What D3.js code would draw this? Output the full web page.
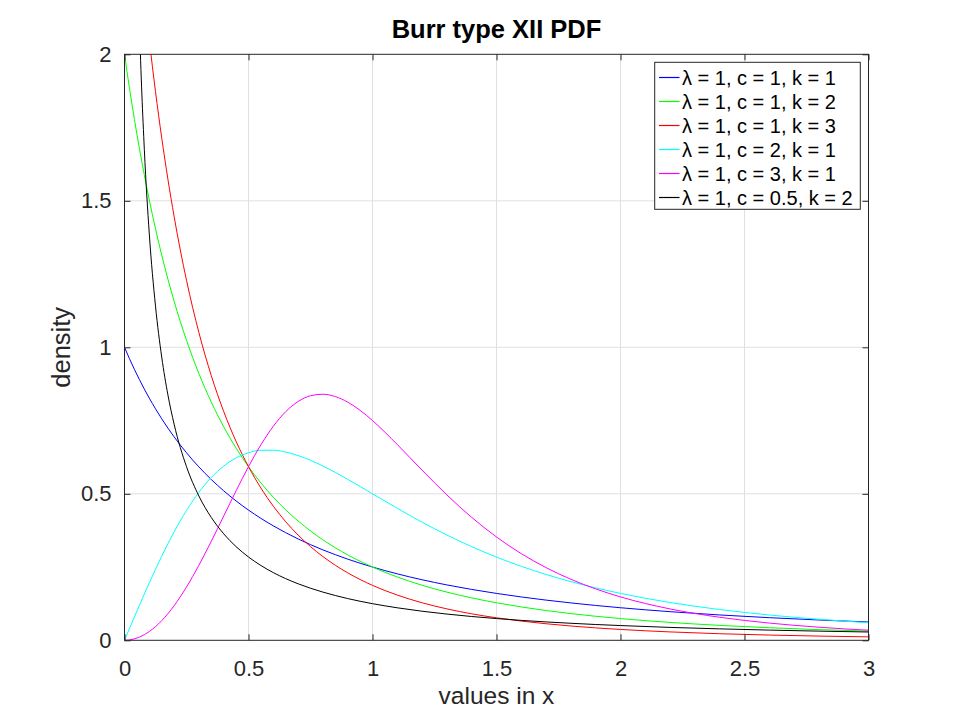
<!DOCTYPE html>
<html><head><meta charset="utf-8">
<script src="https://cdn.jsdelivr.net/npm/d3@7"></script>
<style>
body{margin:0;background:#fff}
svg{display:block}
text{font-family:"Liberation Sans",Arial,Helvetica,sans-serif;fill:#262626}
</style>
</head><body>
<svg id="chart" width="960" height="720"></svg>
<script>
// ---- data ----
const xValues = [0, 0.02, 0.04, 0.06, 0.08, 0.1, 0.125, 0.15, 0.175, 0.2, 0.25, 0.3, 0.35, 0.4, 0.45, 0.5,
  0.55, 0.6, 0.65, 0.7, 0.75, 0.8, 0.85, 0.9, 0.95, 1.0, 1.1, 1.2, 1.3, 1.4, 1.5, 1.6, 1.7, 1.8, 1.9, 2.0,
  2.2, 2.4, 2.6, 2.8, 3.0];

const densityC1K1 = [1, 0.9612, 0.9246, 0.8900, 0.8573, 0.8264, 0.7901, 0.7561, 0.7243, 0.6944, 0.64, 0.5917,
  0.5487, 0.5102, 0.4756, 0.4444, 0.4162, 0.3906, 0.3673, 0.3460, 0.3265, 0.3086, 0.2922, 0.2770, 0.2630, 0.25,
  0.2268, 0.2066, 0.1890, 0.1736, 0.16, 0.1479, 0.1372, 0.1276, 0.1189, 0.1111, 0.0977, 0.0865, 0.0772, 0.0693, 0.0625];

const densityC1K2 = [2, 1.8846, 1.7780, 1.6792, 1.5877, 1.5026, 1.4047, 1.3150, 1.2329, 1.1574, 1.024, 0.9103,
  0.8129, 0.7289, 0.6560, 0.5926, 0.5371, 0.4883, 0.4452, 0.4071, 0.3732, 0.3429, 0.3159, 0.2916, 0.2697, 0.25,
  0.2160, 0.1878, 0.1644, 0.1447, 0.128, 0.1138, 0.1016, 0.0911, 0.0820, 0.0741, 0.0610, 0.0509, 0.0429, 0.0364, 0.0313];

const densityC1K3 = [3, 2.7715, 2.5644, 2.3763, 2.2051, 2.0490, 1.8729, 1.7152, 1.5739, 1.4468, 1.2288, 1.0504,
  0.9032, 0.7809, 0.6787, 0.5926, 0.5198, 0.4578, 0.4047, 0.3592, 0.3199, 0.2858, 0.2561, 0.2302, 0.2075, 0.1875,
  0.1543, 0.1281, 0.1072, 0.0904, 0.0768, 0.0656, 0.0565, 0.0488, 0.0424, 0.0370, 0.0286, 0.0224, 0.0179, 0.0144, 0.0117];

const densityC2K1 = [0, 0.0400, 0.0797, 0.1191, 0.1580, 0.1961, 0.2424, 0.2869, 0.3295, 0.3698, 0.4429, 0.5050,
  0.5556, 0.5945, 0.6224, 0.64, 0.6484, 0.6488, 0.6425, 0.6306, 0.6144, 0.5949, 0.5730, 0.5494, 0.5249, 0.5,
  0.4504, 0.4031, 0.3593, 0.3196, 0.2840, 0.2525, 0.2247, 0.2002, 0.1788, 0.16, 0.1290, 0.1050, 0.0864, 0.0717, 0.06];

const densityC3K1 = [0, 0.0012, 0.0048, 0.0108, 0.0192, 0.0299, 0.0467, 0.0670, 0.0909, 0.1181, 0.1818, 0.2560,
  0.3379, 0.4240, 0.5103, 0.5926, 0.6671, 0.7304, 0.7802, 0.8150, 0.8347, 0.8398, 0.8319, 0.8129, 0.7848, 0.75,
  0.6681, 0.5805, 0.4961, 0.4195, 0.3527, 0.2957, 0.2480, 0.2082, 0.1753, 0.1481, 0.1070, 0.0786, 0.0588, 0.0446, 0.0344];

const densityC05K2 = [null, 4.755, 2.8935, 2.1158, 1.6747, 1.3868, 1.1406, 0.9670, 0.8378, 0.7377, 0.5926, 0.4924,
  0.4192, 0.3635, 0.3196, 0.2843, 0.2553, 0.2310, 0.2105, 0.1929, 0.1777, 0.1645, 0.1528, 0.1424, 0.1332, 0.125,
  0.1109, 0.0992, 0.0895, 0.0812, 0.0742, 0.0680, 0.0627, 0.0581, 0.0539, 0.0503, 0.0440, 0.0390, 0.0348, 0.0313, 0.0283];

const seriesLabels = ["λ = 1, c = 1, k = 1", "λ = 1, c = 1, k = 2", "λ = 1, c = 1, k = 3",
  "λ = 1, c = 2, k = 1", "λ = 1, c = 3, k = 1", "λ = 1, c = 0.5, k = 2"];
const seriesColors = ["#0000ff", "#00ff00", "#ff0000", "#00ffff", "#ff00ff", "#000000"];
const seriesValues = [densityC1K1, densityC1K2, densityC1K3, densityC2K1, densityC3K1, densityC05K2];

const xTicks = [0, 0.5, 1, 1.5, 2, 2.5, 3];
const yTicks = [0, 0.5, 1, 1.5, 2];
const titleText = "Burr type XII PDF";
const xLabelText = "values in x";
const yLabelText = "density";

(function () {
// ---- layout ----
const pL = 124.5, pR = 868.5, pT = 54.3, pB = 640.3;
const axisColor = "#262626";
const svg = d3.select("#chart");

const x = d3.scaleLinear().domain([0, 3]).range([pL, pR]);
const y = d3.scaleLinear().domain([0, 2]).range([pB, pT]);

svg.append("rect").attr("x", 0).attr("y", 0).attr("width", 960).attr("height", 720).attr("fill", "#fff");

// grid
const grid = svg.append("g").attr("stroke", "#e0e0e0").attr("stroke-width", 1);
grid.selectAll("line.gx").data(xTicks.slice(1, -1)).join("line")
  .attr("x1", d => x(d)).attr("x2", d => x(d))
  .attr("y1", pT).attr("y2", pB);
grid.selectAll("line.gy").data(yTicks.slice(1, -1)).join("line")
  .attr("y1", d => y(d)).attr("y2", d => y(d))
  .attr("x1", pL).attr("x2", pR);

// clip
svg.append("clipPath").attr("id", "plotclip").append("rect")
  .attr("x", pL).attr("y", pT).attr("width", pR - pL).attr("height", pB - pT);

const line = d3.line()
  .defined(d => d[1] !== null)
  .x(d => x(d[0])).y(d => y(d[1]))
  .curve(d3.curveMonotoneX);

const curves = svg.append("g").attr("clip-path", "url(#plotclip)");
seriesValues.forEach((vals, i) => {
  curves.append("path")
    .datum(xValues.map((xv, j) => [xv, vals[j]]))
    .attr("fill", "none")
    .attr("stroke", seriesColors[i])
    .attr("stroke-width", 1)
    .attr("d", line);
});

// axes (inward ticks)
const tickLen = 6;
const fmt = d => String(d);
const gB = svg.append("g").attr("transform", `translate(0,${pB})`)
  .call(d3.axisBottom(x).tickValues(xTicks).tickFormat(fmt).tickSizeInner(-tickLen).tickSizeOuter(0).tickPadding(20.5));
const gT = svg.append("g").attr("transform", `translate(0,${pT})`)
  .call(d3.axisTop(x).tickValues(xTicks).tickFormat(() => "").tickSizeInner(-tickLen).tickSizeOuter(0));
const gL = svg.append("g").attr("transform", `translate(${pL},0)`)
  .call(d3.axisLeft(y).tickValues(yTicks).tickFormat(fmt).tickSizeInner(-tickLen).tickSizeOuter(0).tickPadding(13));
const gR = svg.append("g").attr("transform", `translate(${pR},0)`)
  .call(d3.axisRight(y).tickValues(yTicks).tickFormat(() => "").tickSizeInner(-tickLen).tickSizeOuter(0));

[gB, gT, gL, gR].forEach(g => {
  g.attr("font-family", null).attr("font-size", null);
  g.select(".domain").remove();
  g.selectAll(".tick line").attr("stroke", axisColor);
  g.selectAll(".tick text").attr("fill", axisColor).style("font-size", "22px");
});

svg.append("rect").attr("x", pL).attr("y", pT).attr("width", pR - pL).attr("height", pB - pT)
  .attr("fill", "none").attr("stroke", axisColor).attr("stroke-width", 1);

// title and labels
svg.append("text").attr("x", (pL + pR) / 2).attr("y", 38).attr("text-anchor", "middle")
  .style("font-size", "25.5px").style("font-weight", "bold").style("fill", "#000").text(titleText);
svg.append("text").attr("x", (pL + pR) / 2).attr("y", 704).attr("text-anchor", "middle")
  .style("font-size", "24.5px").text(xLabelText);
svg.append("text").attr("transform", `translate(70,${(pT + pB) / 2}) rotate(-90)`).attr("text-anchor", "middle")
  .style("font-size", "25.5px").text(yLabelText);

// legend
const lg = svg.append("g");
lg.append("rect").attr("x", 654.7).attr("y", 62.3).attr("width", 205.6).attr("height", 147)
  .attr("fill", "#fff").attr("stroke", axisColor).attr("stroke-width", 1);
seriesLabels.forEach((lab, i) => {
  const yy = 77.5 + i * 24;
  lg.append("line").attr("x1", 659).attr("x2", 679.5).attr("y1", yy).attr("y2", yy)
    .attr("stroke", seriesColors[i]).attr("stroke-width", 1.2);
  lg.append("text").attr("x", 682).attr("y", yy).attr("dy", "0.35em")
    .style("font-size", "20px").style("fill", "#000").text(lab);
});
})();
</script>
</body></html>
